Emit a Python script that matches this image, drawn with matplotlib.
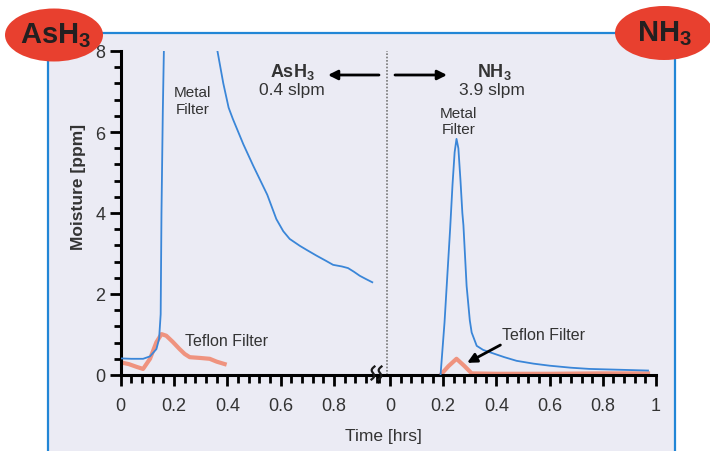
import numpy as np
import matplotlib
matplotlib.use("Agg")
import matplotlib.pyplot as plt
from matplotlib.patches import Rectangle, Ellipse
from matplotlib.lines import Line2D
from matplotlib.ticker import MultipleLocator, FuncFormatter

plt.rcParams['font.family'] = ['Liberation Sans', 'DejaVu Sans']
plt.rcParams['mathtext.fontset'] = 'custom'
plt.rcParams['mathtext.rm'] = 'Liberation Sans'
plt.rcParams['mathtext.bf'] = 'Liberation Sans:bold'

# ---------------- data ----------------
# AsH3 (left panel) - metal filter
ash3_metal_t = [0.0, 0.04, 0.084, 0.11, 0.134, 0.144, 0.150, 0.153, 0.158, 0.162, 0.17, 0.25, 0.33,
                0.363, 0.385, 0.405, 0.421, 0.46, 0.497, 0.55, 0.584, 0.61, 0.634, 0.672, 0.70, 0.734,
                0.77, 0.797, 0.83, 0.853, 0.875, 0.897, 0.92, 0.944]
ash3_metal_v = [0.41, 0.40, 0.40, 0.46, 0.64, 0.89, 1.5, 4.0, 6.5, 8.0, 14.0, 12.0, 9.0,
                8.0, 7.2, 6.6, 6.32, 5.7, 5.17, 4.45, 3.85, 3.55, 3.36, 3.19, 3.08, 2.95,
                2.82, 2.72, 2.68, 2.64, 2.55, 2.45, 2.37, 2.29]
# AsH3 (left panel) - teflon filter
ash3_tef_t = [0.0, 0.03, 0.06, 0.084, 0.11, 0.134, 0.153, 0.171, 0.195, 0.221, 0.24, 0.259, 0.30, 0.334, 0.36, 0.39]
ash3_tef_v = [0.31, 0.27, 0.20, 0.15, 0.40, 0.81, 1.01, 0.97, 0.82, 0.64, 0.52, 0.44, 0.42, 0.40, 0.33, 0.27]
# NH3 (right panel) - metal filter
nh3_metal_t = [0.19, 0.205, 0.215, 0.226, 0.235, 0.243, 0.25, 0.257, 0.265, 0.272, 0.276, 0.288, 0.30,
               0.307, 0.326, 0.35, 0.376, 0.43, 0.476, 0.54, 0.60, 0.68, 0.75, 0.86, 0.97]
nh3_metal_v = [0.0, 1.3, 2.4, 3.6, 4.7, 5.5, 5.83, 5.6, 4.8, 4.0, 3.7, 2.2, 1.35,
               1.05, 0.72, 0.62, 0.56, 0.44, 0.35, 0.28, 0.23, 0.18, 0.15, 0.13, 0.11]
# NH3 (right panel) - teflon filter
nh3_tef_t = [0.194, 0.22, 0.25, 0.28, 0.307, 0.40, 0.60, 0.80, 0.97]
nh3_tef_v = [0.03, 0.22, 0.40, 0.22, 0.04, 0.03, 0.03, 0.04, 0.04]

y_major = [0, 2, 4, 6, 8]
left_xticks = [0, 0.2, 0.4, 0.6, 0.8]
right_xticks = [0, 0.2, 0.4, 0.6, 0.8, 1.0]

# ---------------- styling ----------------
W, H = 710, 452
fig = plt.figure(figsize=(W / 100, H / 100), dpi=100)
fig.patch.set_facecolor('white')

def fx(px):
    return np.asarray(px) / W

def fy(py):
    return 1 - np.asarray(py) / H

BG = '#ebebf4'
BORDER = '#2186d6'
BLUE = '#3a86d8'
SALMON = '#f08a72'
RED = '#e8402f'
TXT = '#333333'

# outer box
fig.add_artist(Rectangle((fx(48), -0.1), fx(675) - fx(48), fy(34) + 0.1,
                         transform=fig.transFigure, facecolor=BG, edgecolor=BORDER,
                         linewidth=1.6, zorder=0))

ax1 = fig.add_axes([fx(120.7), fy(376), fx(377) - fx(120.7), fy(52) - fy(376)])
ax2 = fig.add_axes([fx(377), fy(376), fx(656) - fx(377), fy(52) - fy(376)], sharey=ax1)

left_xmax = (377 - 120.7) / 266.5
right_xmin = -(390 - 377) / 266.0

for ax in (ax1, ax2):
    ax.patch.set_alpha(0)
    ax.set_ylim(0, 8)
    for s in ('top', 'right'):
        ax.spines[s].set_visible(False)
    ax.spines['bottom'].set_linewidth(2.2)
    ax.spines['bottom'].set_color('black')
    ax.xaxis.set_major_locator(MultipleLocator(0.2))
    ax.xaxis.set_minor_locator(MultipleLocator(0.04))
    ax.xaxis.set_major_formatter(FuncFormatter(lambda v, p: '%g' % round(v, 2)))
    ax.tick_params(axis='x', which='major', direction='out', length=8, width=2,
                   labelsize=13, labelcolor=TXT, pad=8)
    ax.tick_params(axis='x', which='minor', direction='out', length=6, width=2)

ax1.set_xlim(0, left_xmax)
ax2.set_xlim(right_xmin, 1.0)
ax1.set_xticks(left_xticks)
ax2.set_xticks(right_xticks)

ax1.spines['left'].set_linewidth(2.2)
ax1.set_yticks(y_major)
ax1.yaxis.set_minor_locator(MultipleLocator(0.4))
ax1.tick_params(axis='y', which='major', direction='out', length=8, width=2,
                labelsize=13, labelcolor=TXT, pad=3)
ax1.tick_params(axis='y', which='minor', direction='out', length=5, width=2)
ax2.spines['left'].set_visible(False)
ax2.tick_params(axis='y', which='both', left=False, labelleft=False)

ax1.set_ylabel('Moisture [ppm]', fontsize=12.5, fontweight='bold', color=TXT)
ax1.yaxis.set_label_coords((86 - 120.7) / 256.3, (376 - 187) / 324)

# curves
ax1.plot(ash3_tef_t, ash3_tef_v, color=SALMON, lw=3, alpha=0.9, zorder=2)
ax1.plot(ash3_metal_t, ash3_metal_v, color=BLUE, lw=1.3, zorder=3)
ax2.plot(nh3_tef_t, nh3_tef_v, color=SALMON, lw=3, alpha=0.9, zorder=2)
ax2.plot(nh3_metal_t, nh3_metal_v, color=BLUE, lw=1.3, zorder=3)

# dotted separator
ax2.axvline(-(390 - 386.7) / 266.0, color='#777777', lw=1.2, ls=(0, (1, 1)), zorder=1)

# labels
fig.text(fx(383), fy(437), 'Time [hrs]', fontsize=12.5, color=TXT, ha='center', va='center')

ax1.text(0.27, 6.77, 'Metal\nFilter', fontsize=11, color=TXT, ha='center', va='center', linespacing=1.25)
ax2.text(0.259, 6.27, 'Metal\nFilter', fontsize=11, color=TXT, ha='center', va='center', linespacing=1.25)
ax1.text(0.24, 0.86, 'Teflon Filter', fontsize=11.5, color=TXT, ha='left', va='center')
ax2.text(0.42, 0.99, 'Teflon Filter', fontsize=11.5, color=TXT, ha='left', va='center')
ax2.annotate('', xy=(0.29, 0.30), xytext=(0.415, 0.74),
             arrowprops=dict(arrowstyle='-|>', color='black', lw=2,
                             mutation_scale=14, shrinkA=0, shrinkB=0))

fig.text(fx(292), fy(72), r'$\mathbf{AsH_3}$', fontsize=13, color=TXT, ha='center', va='center')
fig.text(fx(292), fy(91), '0.4 slpm', fontsize=12.5, color=TXT, ha='center', va='center')
fig.text(fx(494), fy(72), r'$\mathbf{NH_3}$', fontsize=13, color=TXT, ha='center', va='center')
fig.text(fx(492), fy(91), '3.9 slpm', fontsize=12.5, color=TXT, ha='center', va='center')

fig.add_artist(plt.Annotation('', xy=(fx(328), fy(76)), xytext=(fx(379), fy(76)),
                              xycoords='figure fraction', textcoords='figure fraction',
                              arrowprops=dict(arrowstyle='-|>', color='black', lw=2,
                                              mutation_scale=14, shrinkA=0, shrinkB=0)))
fig.add_artist(plt.Annotation('', xy=(fx(447), fy(76)), xytext=(fx(395), fy(76)),
                              xycoords='figure fraction', textcoords='figure fraction',
                              arrowprops=dict(arrowstyle='-|>', color='black', lw=2,
                                              mutation_scale=14, shrinkA=0, shrinkB=0)))

# axis break squiggles (two slanted "S" shapes)
tt = np.linspace(-1, 1, 40)
for cx in (373.0, 380.0):
    xs = cx + 2.0 * np.sin(np.pi * tt) - 1.5 * tt
    ys = 374 + 6.5 * tt
    fig.add_artist(Line2D(fx(xs), fy(ys), transform=fig.transFigure, color='#1a1a1a', lw=1.6, zorder=5))

# red ellipse badges
fig.add_artist(Ellipse((fx(54), fy(36)), fx(98), 53 / H, transform=fig.transFigure,
                       facecolor=RED, edgecolor='none', zorder=6))
fig.add_artist(Ellipse((fx(664), fy(34)), fx(98), 54 / H, transform=fig.transFigure,
                       facecolor=RED, edgecolor='none', zorder=6))
fig.text(fx(56), fy(36), r'$\mathbf{AsH_3}$', fontsize=21, color='#231f20',
         ha='center', va='center', zorder=7)
fig.text(fx(664), fy(34), r'$\mathbf{NH_3}$', fontsize=21, color='#231f20',
         ha='center', va='center', zorder=7)

fig.savefig('out.png', dpi=100, facecolor='white')
